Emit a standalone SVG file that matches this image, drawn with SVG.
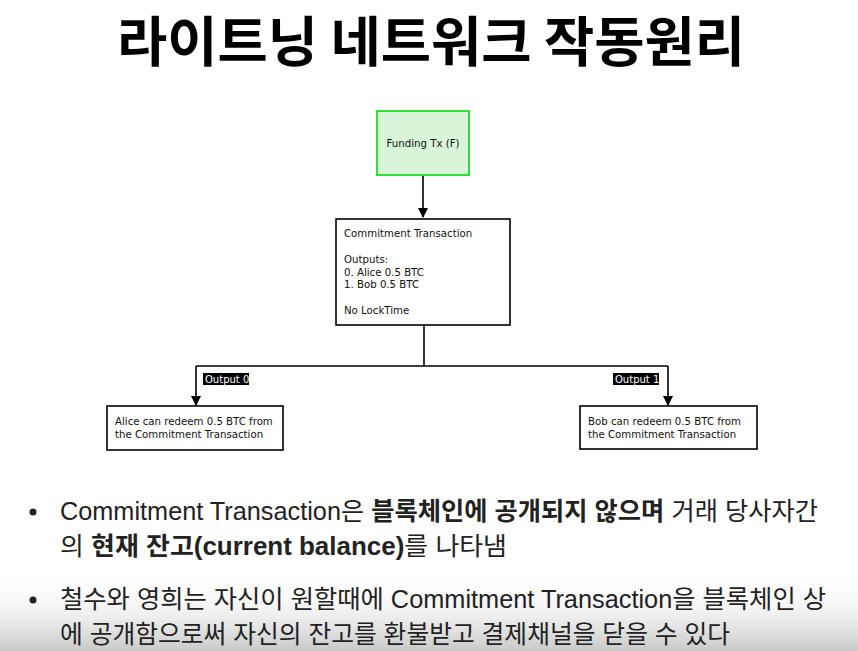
<svg xmlns="http://www.w3.org/2000/svg" width="858" height="651" viewBox="0 0 858 651">
<defs>
<linearGradient id="shade" x1="0" y1="0" x2="0" y2="1">
<stop offset="0" stop-color="#ffffff" stop-opacity="0"/>
<stop offset="1" stop-color="#c8c8c8" stop-opacity="1"/>
</linearGradient>
<marker id="arr" viewBox="0 0 10 10" refX="9" refY="5" markerWidth="10" markerHeight="10" markerUnits="userSpaceOnUse" orient="auto">
<path d="M0,0 L10,5 L0,10 z" fill="#000"/>
</marker>
<style>
.box{fill:#fff;stroke:#000;stroke-width:1.6}
.dt{font-family:"DejaVu Sans",sans-serif;font-size:10.2px;fill:#111}
.lbl{font-family:"DejaVu Sans",sans-serif;font-size:10px;fill:#fff}
.conn{fill:none;stroke:#000;stroke-width:1.6}
.body{font-family:"Liberation Sans","Noto Sans CJK KR",sans-serif;font-size:25px;fill:#222}
.b{font-weight:bold}
</style>
</defs>
<rect x="0" y="0" width="858" height="651" fill="#fff"/>
<rect x="0" y="572" width="858" height="79" fill="url(#shade)"/>
<text x="431" y="62" text-anchor="middle" font-family="Noto Sans CJK KR, sans-serif" font-weight="bold" font-size="54" fill="#000" textLength="628" lengthAdjust="spacingAndGlyphs">라이트닝 네트워크 작동원리</text>

<g id="connectors">
<line class="conn" x1="423" y1="175" x2="423" y2="217" marker-end="url(#arr)"/>
<path class="conn" d="M424,325 V366 M196,366 H668"/>
<path class="conn" d="M196,366 V405" marker-end="url(#arr)"/>
<path class="conn" d="M668,366 V405" marker-end="url(#arr)"/>
<g id="label-out0"><rect x="203" y="373" width="46" height="12" fill="#000"/><text class="lbl" x="205" y="383">Output 0</text></g>
<g id="label-out1"><rect x="613" y="373" width="46" height="12" fill="#000"/><text class="lbl" x="615" y="383">Output 1</text></g>
</g>

<g id="funding">
<rect x="377" y="111" width="92" height="64" fill="#d9f5d9" stroke="#33dd33" stroke-width="2"/>
<text class="dt" x="423" y="147" text-anchor="middle">Funding Tx (F)</text>
</g>

<g id="commitment">
<rect class="box" x="336" y="219" width="174" height="106"/>
<text class="dt" x="344" y="237">Commitment Transaction</text>
<text class="dt" x="344" y="263">Outputs:</text>
<text class="dt" x="344" y="276">0. Alice 0.5 BTC</text>
<text class="dt" x="344" y="288">1. Bob 0.5 BTC</text>
<text class="dt" x="344" y="314">No LockTime</text>
</g>

<g id="alice">
<rect class="box" x="107" y="406" width="176" height="44"/>
<text class="dt" x="115" y="425">Alice can redeem 0.5 BTC from</text>
<text class="dt" x="115" y="438">the Commitment Transaction</text>
</g>

<g id="bob">
<rect class="box" x="580" y="406" width="177" height="43"/>
<text class="dt" x="588" y="425">Bob can redeem 0.5 BTC from</text>
<text class="dt" x="588" y="438">the Commitment Transaction</text>
</g>

<g id="bullets">
<circle cx="33" cy="512" r="3.5" fill="#222"/>
<text class="body" x="60" y="520" textLength="758" lengthAdjust="spacingAndGlyphs">Commitment Transaction은 <tspan class="b">블록체인에 공개되지 않으며</tspan> 거래 당사자간</text>
<text class="body" x="60" y="555" textLength="447" lengthAdjust="spacingAndGlyphs">의 <tspan class="b">현재 잔고(current balance)</tspan>를 나타냄</text>
<circle cx="33" cy="600" r="3.5" fill="#222"/>
<text class="body" x="60" y="608" textLength="766" lengthAdjust="spacingAndGlyphs">철수와 영희는 자신이 원할때에 Commitment Transaction을 블록체인 상</text>
<text class="body" x="60" y="643" textLength="670" lengthAdjust="spacingAndGlyphs">에 공개함으로써 자신의 잔고를 환불받고 결제채널을 닫을 수 있다</text>
</g>
</svg>
